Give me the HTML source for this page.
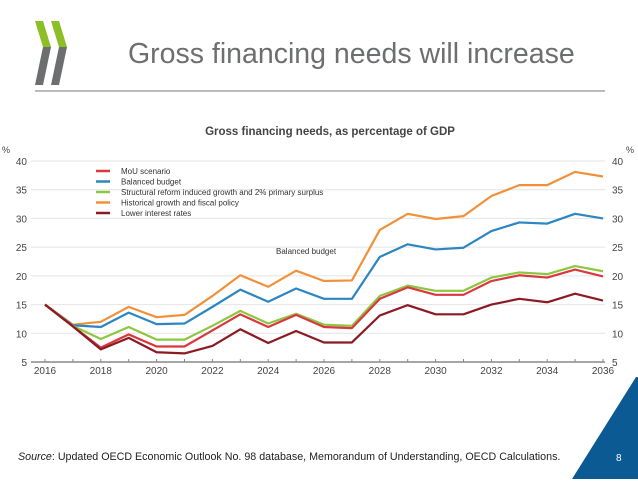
<!DOCTYPE html>
<html><head><meta charset="utf-8"><style>
body{margin:0;width:638px;height:479px;background:#fff;overflow:hidden;font-family:"Liberation Sans",sans-serif}
</style></head><body>
<svg width="638" height="479" font-family="Liberation Sans, sans-serif">
<g>
<polygon points="35,21 43,21 51,47 43,47" fill="#8cbf26"/>
<polygon points="43,47 51,47 43,85 35,85" fill="#6d6e70"/>
<polygon points="51,21 59,21 67,47 59,47" fill="#8cbf26"/>
<polygon points="59,47 67,47 59,85 51,85" fill="#6d6e70"/>
</g>
<text x="128" y="63" font-size="28.5" fill="#6d6e70">Gross financing needs will increase</text>
<line x1="35" y1="91" x2="605" y2="91" stroke="#777" stroke-width="1"/>
<text x="330" y="135" font-size="11.5" font-weight="bold" fill="#444" text-anchor="middle">Gross financing needs, as percentage of GDP</text>
<g id="chart"></g>
<text x="18" y="460" font-size="10.7" fill="#222"><tspan font-style="italic">Source</tspan>: Updated OECD Economic Outlook No. 98 database, Memorandum of Understanding, OECD Calculations.</text>
<polygon points="636,377 572,479 638,479 638,377" fill="#0b5a93"/>
<text x="616" y="461" font-size="10" fill="#fff">8</text>
</svg>
<script>
const years=[2016,2017,2018,2019,2020,2021,2022,2023,2024,2025,2026,2027,2028,2029,2030,2031,2032,2033,2034,2035,2036];
const yTicks=[5,10,15,20,25,30,35,40];
const xTicks=[2016,2018,2020,2022,2024,2026,2028,2030,2032,2034,2036];
const historical=[15,11.5,12,14.6,12.8,13.2,16.5,20.1,18.1,20.9,19.1,19.2,28,30.8,29.9,30.4,33.9,35.8,35.8,38.1,37.3];
const balanced=[15,11.4,11.1,13.6,11.6,11.7,14.6,17.6,15.5,17.8,16.0,16.0,23.3,25.5,24.6,24.9,27.8,29.3,29.1,30.8,30.0];
const structural=[15,11.3,9.0,11.1,8.9,8.9,11.3,13.9,11.7,13.4,11.5,11.3,16.5,18.3,17.4,17.4,19.7,20.6,20.3,21.7,20.8];
const mou=[15,11.2,7.5,9.8,7.7,7.7,10.5,13.3,11.1,13.2,11.1,10.9,16.0,18.0,16.7,16.7,19.1,20.1,19.7,21.1,19.9];
const lowerRates=[15,11.2,7.2,9.2,6.7,6.5,7.8,10.7,8.3,10.4,8.4,8.4,13.1,14.9,13.3,13.3,15.0,16.0,15.4,16.9,15.7];
const legendLabels=["MoU scenario","Balanced budget","Structural reform induced growth and 2% primary surplus","Historical growth and fiscal policy","Lower interest rates"];
const NS="http://www.w3.org/2000/svg";
const g=document.getElementById('chart');
const X0=31,X1=605,Y0=362,Y1=161;
const x=v=>45+(v-2016)*(603-45)/20;
const y=v=>Y0-(v-5)*(Y0-Y1)/35;
function el(t,a,txt){const e=document.createElementNS(NS,t);for(const k in a)e.setAttribute(k,a[k]);if(txt!==undefined)e.textContent=txt;g.appendChild(e);return e;}
yTicks.forEach(t=>{
  if(t>5){const l=el('line',{x1:X0,x2:X1,y1:y(t),y2:y(t),stroke:'#e4e4e4','stroke-width':1});
  
  }
  const a=el('text',{x:27,y:y(t)+4,'font-size':10,fill:'#444','text-anchor':'end'},t);
  
  
  const b=el('text',{x:612,y:y(t)+4,'font-size':10,fill:'#444'},t);
  
  
});
const u1=el('text',{x:2,y:153,'font-size':9,fill:'#444'},'%');


const u2=el('text',{x:626,y:153,'font-size':9,fill:'#444'},'%');


const ax=el('line',{x1:X0,x2:X1,y1:Y0,y2:Y0,stroke:'#888','stroke-width':1.5});


years.forEach(yr=>{const t=el('line',{x1:x(yr),x2:x(yr),y1:Y0-3,y2:Y0,stroke:'#888'});

});
xTicks.forEach(t=>{const e=el('text',{x:x(t),y:374,'font-size':10,fill:'#444','text-anchor':'middle'},t);

});
const series=[[historical,'#f0913a','historical-line'],[balanced,'#2b86c1','balanced-line'],[structural,'#8dc63f','structural-line'],[mou,'#d9383f','mou-line'],[lowerRates,'#8b1a22','lower-rates-line']];
series.forEach(([d,c,n])=>{const p=el('polyline',{points:d.map((v,i)=>x(years[i])+','+y(v)).join(' '),fill:'none',stroke:c,'stroke-width':2.2,'stroke-linejoin':'round'});

});
const lc=['#d9383f','#2b86c1','#8dc63f','#f0913a','#8b1a22'];
legendLabels.forEach((l,i)=>{const yy=171+i*10.5;
const s=el('line',{x1:96,x2:110,y1:yy,y2:yy,stroke:lc[i],'stroke-width':2.5});


const t=el('text',{x:121,y:yy+3,'font-size':8,fill:'#333'},l);

});
const an=el('text',{x:276,y:254,'font-size':8,fill:'#333'},'Balanced budget');


</script>
</body></html>
